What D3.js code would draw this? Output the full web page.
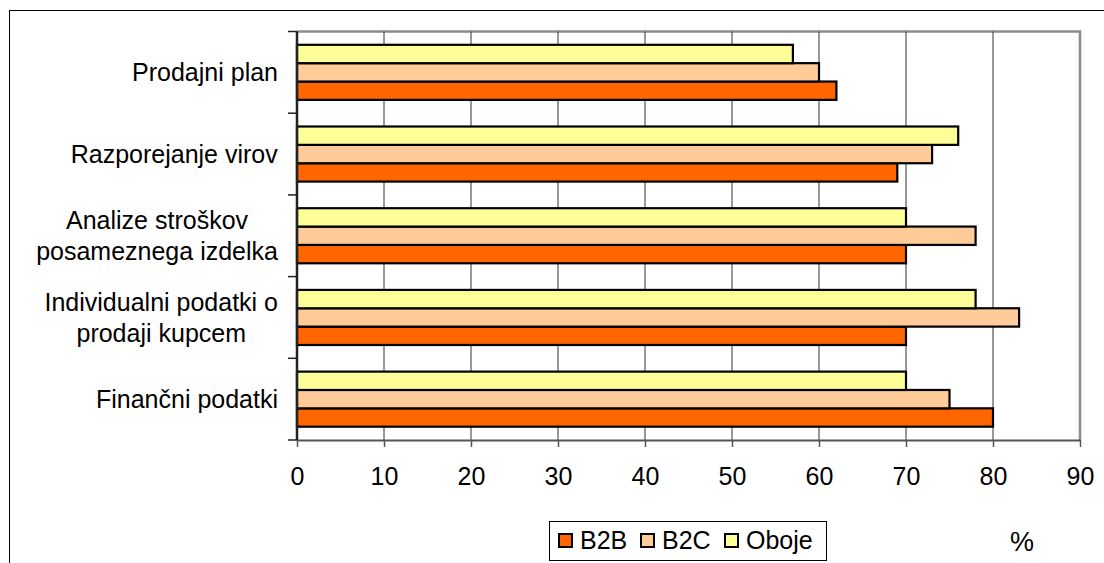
<!DOCTYPE html>
<html>
<head>
<meta charset="utf-8">
<script src="https://cdn.jsdelivr.net/npm/d3@7"></script>
<style>
  html, body { margin: 0; padding: 0; background: #fff; }
  svg { display: block; }
  text { font-family: "Liberation Sans", Arial, sans-serif; fill: #000; }
</style>
</head>
<body>
<svg id="chart" width="1104" height="563"></svg>
<script>
// Categories, listed top to bottom
const categories = [
  "Prodajni plan",
  "Razporejanje virov",
  "Analize stroškov\nposameznega izdelka",
  "Individualni podatki o\nprodaji kupcem",
  "Finančni podatki"
];
const seriesNames = ["B2B", "B2C", "Oboje"];
const seriesColors = ["#FF6600", "#FFCC99", "#FFFF99"];

// Share (%) per category, same order as categories
const b2b   = [62, 69, 70, 70, 80];
const b2c   = [60, 73, 78, 83, 75];
const oboje = [57, 76, 70, 78, 70];

const xTicks = [0, 10, 20, 30, 40, 50, 60, 70, 80, 90];
const unitLabel = "%";

const seriesValues = { "B2B": b2b, "B2C": b2c, "Oboje": oboje };

const svg = d3.select("#chart");
const W = 1104, H = 563;
const plot = { left: 297, right: 1080, top: 31.5, bottom: 440 };
const fontSize = 25;

// Outer chart frame (runs off the right and bottom edges)
svg.append("rect")
  .attr("x", 9.5).attr("y", 10.5)
  .attr("width", W + 20).attr("height", H + 20)
  .attr("fill", "#fff").attr("stroke", "#000").attr("stroke-width", 1);

const x = d3.scaleLinear().domain([0, 90]).range([plot.left, plot.right]);
const y = d3.scaleBand().domain(categories).range([plot.top, plot.bottom]).padding(0);
// Within a category the last series sits on top
const yInner = d3.scaleBand()
  .domain(seriesNames.slice().reverse())
  .range([0, y.bandwidth()])
  .paddingInner(0)
  .paddingOuter(0.725);

// Plot area border (grey, top and right)
svg.append("path")
  .attr("d", `M${plot.left},${plot.top}H${plot.right}V${plot.bottom}`)
  .attr("fill", "none").attr("stroke", "#8c8c8c").attr("stroke-width", 2.5);

// Vertical gridlines
svg.append("g")
  .selectAll("line")
  .data(xTicks.filter(t => t > 0 && t < 90))
  .join("line")
  .attr("x1", d => x(d)).attr("x2", d => x(d))
  .attr("y1", plot.top).attr("y2", plot.bottom)
  .attr("stroke", "#333").attr("stroke-width", 1);

// Bars
const rows = [];
categories.forEach((c, i) => {
  seriesNames.forEach((s, j) => {
    rows.push({ cat: c, series: s, value: seriesValues[s][i], color: seriesColors[j] });
  });
});
svg.append("g")
  .selectAll("rect")
  .data(rows)
  .join("rect")
  .attr("x", x(0))
  .attr("y", d => y(d.cat) + yInner(d.series))
  .attr("width", d => x(d.value) - x(0))
  .attr("height", yInner.bandwidth())
  .attr("fill", d => d.color)
  .attr("stroke", "#000")
  .attr("stroke-width", 2.2);

// X axis
const xAxis = svg.append("g")
  .attr("transform", `translate(0,${plot.bottom})`)
  .call(d3.axisBottom(x).tickValues(xTicks).tickSize(7).tickPadding(20).tickSizeOuter(0));
xAxis.select(".domain").attr("stroke", "#555").attr("stroke-width", 2);
xAxis.selectAll(".tick line").attr("stroke", "#555").attr("stroke-width", 1.5);
xAxis.selectAll(".tick text")
  .attr("font-size", fontSize)
  .style("font-family", '"Liberation Sans", Arial, sans-serif')
  .attr("fill", "#000");

// Y axis: line with category-boundary ticks
const yAxisG = svg.append("g");
yAxisG.append("line")
  .attr("x1", plot.left).attr("x2", plot.left)
  .attr("y1", plot.top).attr("y2", plot.bottom)
  .attr("stroke", "#222").attr("stroke-width", 2.5);
const boundaries = categories.map(c => y(c)).concat([plot.bottom]);
yAxisG.selectAll("line.tick")
  .data(boundaries)
  .join("line")
  .attr("class", "tick")
  .attr("x1", plot.left - 9).attr("x2", plot.left)
  .attr("y1", d => d).attr("y2", d => d)
  .attr("stroke", "#222").attr("stroke-width", 1.5);

// Category labels: block right-aligned, lines centred within the block
const labelRight = 278;
const lineH = 31;
categories.forEach(c => {
  const lines = c.split("\n");
  const t = svg.append("text")
    .attr("font-size", fontSize)
    .attr("text-anchor", "middle");
  const cy = y(c) + y.bandwidth() / 2;
  const startY = cy - (lines.length - 1) * lineH / 2;
  lines.forEach((ln, k) => {
    t.append("tspan").attr("x", 0).attr("y", startY + k * lineH).attr("dy", "0.35em").text(ln);
  });
  const w = t.node().getBBox().width;
  t.selectAll("tspan").attr("x", labelRight - w / 2);
});

// Legend
const legend = svg.append("g");
legend.append("rect")
  .attr("x", 549.5).attr("y", 521.5)
  .attr("width", 277).attr("height", 39)
  .attr("fill", "#fff").attr("stroke", "#000").attr("stroke-width", 1);
const legendX = [559, 641, 725];
seriesNames.forEach((s, j) => {
  legend.append("rect")
    .attr("x", legendX[j]).attr("y", 534)
    .attr("width", 13).attr("height", 13)
    .attr("fill", seriesColors[j]).attr("stroke", "#000").attr("stroke-width", 2);
  legend.append("text")
    .attr("x", legendX[j] + 21).attr("y", 549)
    .attr("font-size", fontSize)
    .text(s);
});

// Unit label
svg.append("text")
  .attr("x", 1022).attr("y", 551)
  .attr("text-anchor", "middle")
  .attr("font-size", 27)
  .text(unitLabel);
</script>
</body>
</html>
